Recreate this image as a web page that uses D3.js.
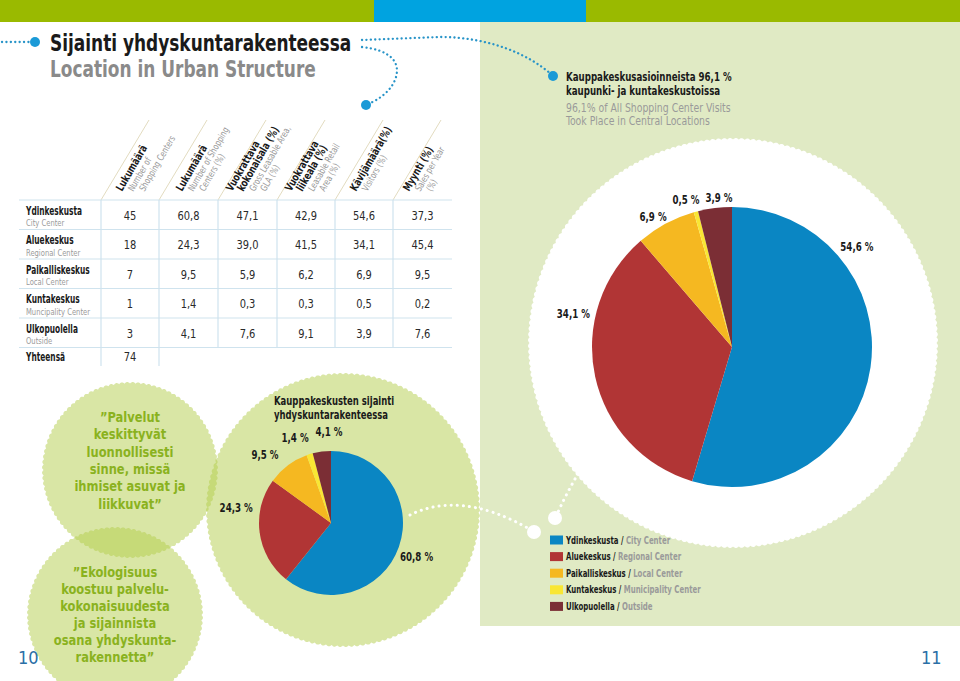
<!DOCTYPE html>
<html><head><meta charset="utf-8">
<script src="https://cdn.jsdelivr.net/npm/d3@7"></script>
<style>body{margin:0;background:#fff}svg{display:block}</style>
</head><body>
<script>
// ---------- DATA ----------
const categoriesFi = ["Ydinkeskusta","Aluekeskus","Paikalliskeskus","Kuntakeskus","Ulkopuolella"];
const categoriesEn = ["City Center","Regional Center","Local Center","Muncipality Center","Outside"];
const legendEn = ["City Center","Regional Center","Local Center","Municipality Center","Outside"];
const countCenters = [45,18,7,1,3];
const shareCenters = [60.8,24.3,9.5,1.4,4.1];
const glaShare = [47.1,39.0,5.9,0.3,7.6];
const retailShare = [42.9,41.5,6.2,0.3,9.1];
const visitorShare = [54.6,34.1,6.9,0.5,3.9];
const salesShare = [37.3,45.4,9.5,0.2,7.6];
const totalCenters = 74;
const totalLabel = "Yhteensä";
const headerLines = [
  [["Lukumäärä",1],["Number of",0],["Shopping Centers",0]],
  [["Lukumäärä",1],["Number of Shopping",0],["Centers (%)",0]],
  [["Vuokrattava",1],["kokonaisala (%)",1],["Gross Leasable Area,",0],["GLA (%)",0]],
  [["Vuokrattava",1],["liikeala (%)",1],["Leasable Retail",0],["Area (%)",0]],
  [["Kävijämäärä(%)",1],["Visitors (%)",0]],
  [["Myynti (%)",1],["Sales per Year",0],["(%)",0]]
];
const quote1=["”Palvelut","keskittyvät","luonnollisesti","sinne, missä","ihmiset asuvat ja","liikkuvat”"];
const quote2=["”Ekologisuus","koostuu palvelu-","kokonaisuudesta","ja sijainnista","osana yhdyskunta-","rakennetta”"];
const colors = ["#0a86c3","#b13535","#f5b821","#f9e634","#7b2e35"];

// ---------- LAYOUT ----------
const W=960,H=681;
const FONT="'DejaVu Sans Condensed','DejaVu Sans',sans-serif";
const svg=d3.select("body").append("svg").attr("width",W).attr("height",H).style("font-family",FONT);
const fmt1=v=>d3.format(".1f")(v).replace(".",",");

function T(parent,x,y,str,o){
  o=Object.assign({size:11,weight:"normal",fill:"#1a1a1a",anchor:"start",sx:1,rot:0},o||{});
  const g=parent.append("g").attr("transform",`translate(${x},${y}) rotate(${o.rot}) scale(${o.sx},1)`);
  const t=g.append("text").attr("font-size",o.size).attr("font-weight",o.weight).attr("fill",o.fill).attr("text-anchor",o.anchor);
  if(str!==null) t.text(str);
  return t;
}

function scallop(cx,cy,r,n,amp){
  const pts=[];const N=n*12;
  for(let i=0;i<=N;i++){const t=i/N*2*Math.PI;
    const rr=r-amp+amp*Math.abs(Math.sin(n*t/2));
    pts.push([cx+rr*Math.sin(t),cy-rr*Math.cos(t)]);}
  return d3.line()(pts)+"Z";
}

// background panel
svg.append("rect").attr("x",480).attr("y",22).attr("width",480).attr("height",604).attr("fill","#e0eac4");
// top bar
svg.append("rect").attr("x",0).attr("y",0).attr("width",374).attr("height",22).attr("fill","#9aba00");
svg.append("rect").attr("x",374).attr("y",0).attr("width",212).attr("height",22).attr("fill","#00a3e0");
svg.append("rect").attr("x",586).attr("y",0).attr("width",374).attr("height",22).attr("fill","#9aba00");

// green bubbles (semi-transparent so overlaps darken)
const bubbleFill="rgb(179,206,76)", bubbleOp=0.5;
[[130,470,88,100],[115,615,88,100],[343,510,137,150]].forEach(b=>{
  svg.append("path").attr("d",scallop(b[0],b[1],b[2],b[3],1.5)).attr("fill",bubbleFill).attr("fill-opacity",bubbleOp);
});
// white bubble for big pie
svg.append("path").attr("d",scallop(733,343,205,220,1.5)).attr("fill","#fff");

// dotted lines
const dot={stroke:"#2894c8","stroke-width":2.3,"stroke-dasharray":"0.1,4.3","stroke-linecap":"round",fill:"none"};
function dotted(d,st){const p=svg.append("path").attr("d",d);Object.entries(st).forEach(([k,v])=>p.attr(k,v));return p;}
dotted("M2,42 L30,42",dot);
dotted("M362,40 L440,37 C490,37 530,55 552,75",dot);
dotted("M362,47 C390,50 402,62 395,80 C390,92 378,100 368,104",dot);
svg.append("circle").attr("cx",35).attr("cy",42).attr("r",5).attr("fill","#1b9ad7");
svg.append("circle").attr("cx",366).attr("cy",105).attr("r",5).attr("fill","#1b9ad7");
svg.append("circle").attr("cx",553).attr("cy",76).attr("r",5).attr("fill","#1b9ad7");
const wdot={stroke:"#fff","stroke-width":3,"stroke-dasharray":"0.1,6","stroke-linecap":"round",fill:"none"};
dotted("M410,515 C440,500 480,500 533,531",wdot);
dotted("M556,517 C565,495 575,480 588,455",wdot);
svg.append("circle").attr("cx",534).attr("cy",532).attr("r",7).attr("fill","#fff");
svg.append("circle").attr("cx",555).attr("cy",518).attr("r",7).attr("fill","#fff");

// title
T(svg,50,51,"Sijainti yhdyskuntarakenteessa",{size:23,weight:"bold",fill:"#1a1a1a",sx:0.82});
T(svg,50,77,"Location in Urban Structure",{size:23,weight:"bold",fill:"#8a8a8a",sx:0.82});

// ---------- TABLE ----------
const colEdges=[101,159,218,277,335,393,452];
const rowY=d3.scaleBand().domain(d3.range(categoriesFi.length)).range([200,347.5]);
const lineC="#cfe3ee";
colEdges.slice(0,6).forEach(x=>{
  svg.append("line").attr("x1",x).attr("y1",200).attr("x2",x+48).attr("y2",120).attr("stroke","#e3dcc0").attr("stroke-width",1);
});
d3.range(categoriesFi.length+1).forEach(i=>{
  const y=i<categoriesFi.length?rowY(i):347.5;
  svg.append("line").attr("x1",19).attr("x2",452).attr("y1",y).attr("y2",y).attr("stroke",lineC).attr("stroke-width",1.2);
});
colEdges.slice(0,6).forEach((x,i)=>{
  svg.append("line").attr("x1",x).attr("x2",x).attr("y1",200).attr("y2",i<2?366:347.5).attr("stroke",lineC).attr("stroke-width",1.2);
});
// headers
const hx=[122,182,232,291,356,409];
headerLines.forEach((lines,c)=>{
  lines.forEach((ln,i)=>{
    T(svg,hx[c]+i*11.2,192,ln[0],{size:ln[1]?11:9.5,weight:ln[1]?"bold":"normal",fill:ln[1]?"#1a1a1a":"#9a9a9a",rot:-60,sx:0.82});
  });
});
// row labels & values
const cols=[countCenters,shareCenters,glaShare,retailShare,visitorShare,salesShare];
categoriesFi.forEach((name,r)=>{
  const y0=rowY(r);
  T(svg,26,y0+14.5,name,{size:11.5,weight:"bold",sx:0.72});
  T(svg,26,y0+26,categoriesEn[r],{size:9,fill:"#9a9a9a",sx:0.84});
  cols.forEach((arr,c)=>{
    const v=arr[r];
    T(svg,(colEdges[c]+colEdges[c+1])/2,y0+19.5,c===0?String(v):fmt1(v),{size:12.5,fill:"#2a2a2a",anchor:"middle",sx:0.88});
  });
});
T(svg,26,361,totalLabel,{size:11.5,weight:"bold",sx:0.72});
T(svg,(colEdges[0]+colEdges[1])/2,361,String(totalCenters),{size:12.5,fill:"#2a2a2a",anchor:"middle",sx:0.88});

// ---------- PIES ----------
const pie=d3.pie().sort(null).value(d=>d);
function drawPie(data,cx,cy,r,labelPolar){
  const g=svg.append("g").attr("transform",`translate(${cx},${cy})`);
  const arc=d3.arc().innerRadius(0).outerRadius(r);
  const arcs=pie(data);
  g.selectAll("path").data(arcs).join("path").attr("d",arc).attr("fill",(d,i)=>colors[i]);
  arcs.forEach((d,i)=>{
    const a=labelPolar[i][0]*Math.PI/180, rr=labelPolar[i][1];
    T(g,rr*Math.sin(a),-rr*Math.cos(a)+4,fmt1(d.data)+" %",{size:11.5,weight:"bold",anchor:"middle",sx:0.84});
  });
}
drawPie(visitorShare,732,347,140,[[51.3,160],[281.7,162],[328.7,152],[342.6,154],[355,150]]);
drawPie(shareCenters,331,523,72,[[111.6,92],[279,96],[316,95],[337,92],[358.7,91]]);

// small pie title
T(svg,274,405,"Kauppakeskusten sijainti",{size:11.5,weight:"bold",sx:0.82});
T(svg,274,418.5,"yhdyskuntarakenteessa",{size:11.5,weight:"bold",sx:0.82});

// right panel headline
T(svg,566,81,"Kauppakeskusasioinneista 96,1 %",{size:12.5,weight:"bold",sx:0.77});
T(svg,566,94.5,"kaupunki- ja kuntakeskustoissa",{size:12.5,weight:"bold",sx:0.77});
T(svg,566,112,"96,1% of All Shopping Center Visits",{size:11.5,fill:"#9a9a9a",sx:0.9});
T(svg,566,125,"Took Place in Central Locations",{size:11.5,fill:"#9a9a9a",sx:0.9});

// quotes
quote1.forEach((t,i)=>T(svg,130,422+i*17.3,t,{size:14.5,weight:"bold",fill:"#8ab21e",anchor:"middle",sx:0.88}));
quote2.forEach((t,i)=>T(svg,115,577+i*17,t,{size:14.5,weight:"bold",fill:"#8ab21e",anchor:"middle",sx:0.88}));

// legend
categoriesFi.forEach((name,i)=>{
  const y=540+i*16.6;
  svg.append("rect").attr("x",550).attr("y",y-4.5).attr("width",13).attr("height",9).attr("fill",colors[i]);
  const t=T(svg,566,y+3.5,null,{size:10.5,weight:"bold",sx:0.74});
  t.append("tspan").text(name+" / ");
  t.append("tspan").attr("fill","#9a9a9a").text(legendEn[i]);
});

// page numbers
T(svg,18,664,"10",{size:18,fill:"#2b6fa6"});
T(svg,921,664,"11",{size:18,fill:"#2b6fa6"});
</script>
</body></html>
